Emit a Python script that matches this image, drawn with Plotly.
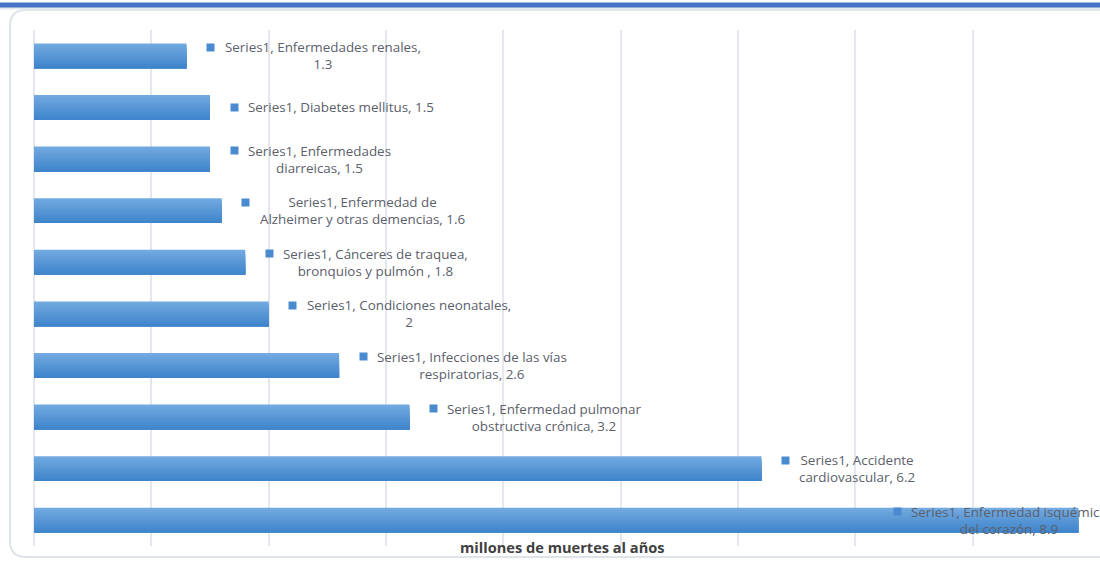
import plotly.graph_objects as go

# ---- data ----
categories = [
    "Enfermedades renales",
    "Diabetes mellitus",
    "Enfermedades diarreicas",
    "Enfermedad de Alzheimer y otras demencias",
    "Cánceres de traquea, bronquios y pulmón ",
    "Condiciones neonatales",
    "Infecciones de las vías respiratorias",
    "Enfermedad pulmonar obstructiva crónica",
    "Accidente cardiovascular",
    "Enfermedad isquémica del corazón",
]
values = [1.3, 1.5, 1.5, 1.6, 1.8, 2.0, 2.6, 3.2, 6.2, 8.9]
series_name = "Series1"
label_texts = [
    "Series1, Enfermedades renales,<br>1.3",
    "Series1, Diabetes mellitus, 1.5",
    "Series1, Enfermedades<br>diarreicas, 1.5",
    "Series1, Enfermedad de<br>Alzheimer y otras demencias, 1.6",
    "Series1, Cánceres de traquea,<br>bronquios y pulmón , 1.8",
    "Series1, Condiciones neonatales,<br>2",
    "Series1, Infecciones de las vías<br>respiratorias, 2.6",
    "Series1, Enfermedad pulmonar<br>obstructiva crónica, 3.2",
    "Series1, Accidente<br>cardiovascular, 6.2",
    "Series1, Enfermedad isquémica<br>del corazón, 8.9",
]
axis_title = "millones de muertes al años"

# ---- layout constants ----
W, H = 1100, 561
ML, MR, MT, MB = 34, 10, 30, 15
PW, PH = W - ML - MR, H - MT - MB
FONT = "Open Sans, Lato, DejaVu Sans, sans-serif"
TEXT_COLOR = "#5b606b"


def px(x):
    return (x - ML) / PW


def py(y):
    return (H - MB - y) / PH


fig = go.Figure()

# bars drawn as stacked overlapping layers to imitate the top-to-bottom gradient
bar_w = 0.48
n_strips = 12
top_rgb = (113, 169, 224)
bot_rgb = (64, 133, 203)
for k in range(n_strips):
    t = k / (n_strips - 1)
    c = tuple(round(top_rgb[i] + (bot_rgb[i] - top_rgb[i]) * t) for i in range(3))
    start = -bar_w / 2 + k * bar_w / n_strips
    fig.add_trace(go.Bar(
        x=values, y=categories, orientation="h",
        width=bar_w / 2 - start,
        offset=start,
        marker=dict(color="rgb(%d,%d,%d)" % c, line=dict(width=0)),
        hoverinfo="skip", showlegend=False,
    ))

# data labels
annotations = []
for i, (cat, v, txt) in enumerate(zip(categories, values, label_texts)):
    two_lines = "<br>" in txt
    if i == len(categories) - 1:
        mshift, tshift = -181, -169
    else:
        mshift, tshift = 24, 36
    annotations.append(dict(
        x=v, y=cat, xref="x", yref="y", text=txt, showarrow=False,
        xanchor="left", yanchor="middle", align="center", xshift=tshift,
        font=dict(family=FONT, size=13.4, color=TEXT_COLOR),
    ))
    annotations.append(dict(
        x=v, y=cat, xref="x", yref="y", text=" ", showarrow=False,
        xanchor="center", yanchor="middle", xshift=mshift,
        yshift=8.5 if two_lines else 0,
        width=7, height=7, bgcolor="#4a8bd0", borderpad=0,
        font=dict(size=4),
    ))

annotations.append(dict(
    x=0.5, y=py(547), xref="paper", yref="paper", text="<b>%s</b>" % axis_title,
    showarrow=False, xanchor="center", yanchor="middle",
    font=dict(family=FONT, size=14.6, color="#404040"),
))

# chart frame (rounded) and top blue band
r = 16
x0, x1, y0, y1 = px(10), px(1120), py(10), py(557)
rx, ry = r / PW, r / PH
frame_path = (
    f"M {x0},{y0 - ry} L {x0},{y1 + ry} Q {x0},{y1} {x0 + rx},{y1} "
    f"L {x1 - rx},{y1} Q {x1},{y1} {x1},{y1 + ry} L {x1},{y0 - ry} "
    f"Q {x1},{y0} {x1 - rx},{y0} L {x0 + rx},{y0} Q {x0},{y0} {x0},{y0 - ry} Z"
)
shapes = [
    dict(type="path", path=frame_path, xref="paper", yref="paper",
         line=dict(color="#dfe3ea", width=2), layer="below"),
    dict(type="rect", xref="paper", yref="paper", x0=px(0), x1=px(W), y0=py(9.5), y1=py(7),
         fillcolor="#e3e7ef", line=dict(width=0), layer="below"),
    dict(type="rect", xref="paper", yref="paper", x0=px(0), x1=px(W), y0=py(7.5), y1=py(2.5),
         fillcolor="#4472c4", line=dict(width=0), layer="below"),
]

fig.update_layout(
    width=W, height=H,
    margin=dict(l=ML, r=MR, t=MT, b=MB),
    paper_bgcolor="white", plot_bgcolor="white",
    barmode="overlay",
    showlegend=False,
    annotations=annotations,
    shapes=shapes,
    xaxis=dict(range=[0, 9], dtick=1, showticklabels=False, showgrid=True,
               gridcolor="#e4e7ee", gridwidth=1.5, zeroline=True, zerolinecolor="#e4e7ee",
               zerolinewidth=1.5, showline=False, ticks="", fixedrange=True),
    yaxis=dict(categoryorder="array", categoryarray=categories, autorange="reversed",
               showticklabels=False, showgrid=False, zeroline=False, showline=False,
               ticks="", fixedrange=True),
)

fig.write_html(
    "out.html",
    config={"displayModeBar": False},
    post_script="document.body.style.margin='0';document.body.style.overflow='hidden';",
)
